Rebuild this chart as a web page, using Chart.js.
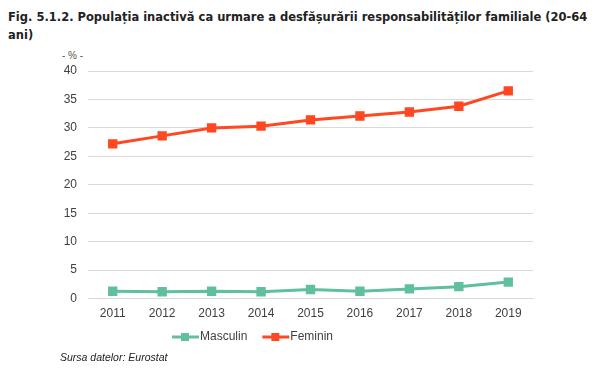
<!DOCTYPE html>
<html>
<head>
<meta charset="utf-8">
<script src="https://cdn.jsdelivr.net/npm/chart.js@4"></script>
<style>
  body { margin: 0; background: #fff; }
  #wrap { position: relative; width: 592px; height: 368px; overflow: hidden; }
  #title { position: absolute; left: 8px; top: 8px; font: bold 11.5px "DejaVu Sans", sans-serif; color: #222; line-height: 18px; white-space: nowrap; }
  #unit { position: absolute; left: 62px; top: 50px; font: 10px "Liberation Sans", sans-serif; color: #555; }
  #source { position: absolute; left: 60px; top: 351px; font: italic 10.5px "Liberation Sans", sans-serif; color: #222; }
  canvas { position: absolute; left: 0; top: 0; }
</style>
</head>
<body>
<div id="wrap">
  <div id="title">Fig. 5.1.2. Populația inactivă ca urmare a desfășurării responsabilităților familiale (20-64<br>ani)</div>
  <div id="unit">- % -</div>
  <canvas id="chart" width="592" height="368"></canvas>
  <div id="source">Sursa datelor: Eurostat</div>
</div>
<script>
// date
const years = ["2011", "2012", "2013", "2014", "2015", "2016", "2017", "2018", "2019"];
const masculin = [1.3, 1.2, 1.3, 1.2, 1.6, 1.3, 1.7, 2.1, 2.9];
const feminin = [27.2, 28.6, 30.0, 30.3, 31.4, 32.1, 32.8, 33.8, 36.5];
const yTicks = [0, 5, 10, 15, 20, 25, 30, 35, 40];

const colMasc = "#5fbf9f";
const colFem = "#ff4722";

// legenda desenata manual (linie + patrat, ca in Excel)
const legendPlugin = {
  id: "lineLegend",
  afterDraw(chart) {
    const ctx = chart.ctx;
    const y = 337;
    let x = 172;
    ctx.save();
    ctx.font = "12px 'Liberation Sans', sans-serif";
    ctx.textBaseline = "middle";
    chart.data.datasets.forEach(ds => {
      ctx.strokeStyle = ds.borderColor;
      ctx.lineWidth = 3;
      ctx.beginPath();
      ctx.moveTo(x, y);
      ctx.lineTo(x + 27, y);
      ctx.stroke();
      ctx.fillStyle = ds.borderColor;
      ctx.fillRect(x + 9, y - 4, 8, 8);
      ctx.fillStyle = "#404040";
      ctx.fillText(ds.label, x + 28, y);
      x += 28 + ctx.measureText(ds.label).width + 15;
    });
    ctx.restore();
  }
};

new Chart(document.getElementById("chart"), {
  type: "line",
  data: {
    labels: years,
    datasets: [
      {
        label: "Masculin",
        data: masculin,
        borderColor: colMasc,
        backgroundColor: colMasc,
        borderWidth: 3,
        pointStyle: "rect",
        pointRadius: 4.5,
        tension: 0
      },
      {
        label: "Feminin",
        data: feminin,
        borderColor: colFem,
        backgroundColor: colFem,
        borderWidth: 3,
        pointStyle: "rect",
        pointRadius: 4.5,
        tension: 0
      }
    ]
  },
  options: {
    responsive: false,
    animation: false,
    layout: { padding: { top: 71, left: 40, right: 59, bottom: 39 } },
    plugins: {
      legend: { display: false },
      tooltip: { enabled: false }
    },
    scales: {
      x: {
        offset: true,
        grid: { display: false, drawTicks: false },
        border: { color: "#d9d9d9" },
        ticks: { color: "#404040", font: { family: "Liberation Sans", size: 12 }, padding: 8 }
      },
      y: {
        min: 0,
        max: 40,
        afterFit: axis => { axis.width = 48; },
        afterBuildTicks: axis => { axis.ticks = yTicks.map(v => ({ value: v })); },
        grid: { color: "#d9d9d9", drawTicks: false },
        border: { display: false },
        ticks: { color: "#404040", font: { family: "Liberation Sans", size: 12 }, padding: 11 }
      }
    }
  },
  plugins: [legendPlugin]
});
</script>
</body>
</html>
